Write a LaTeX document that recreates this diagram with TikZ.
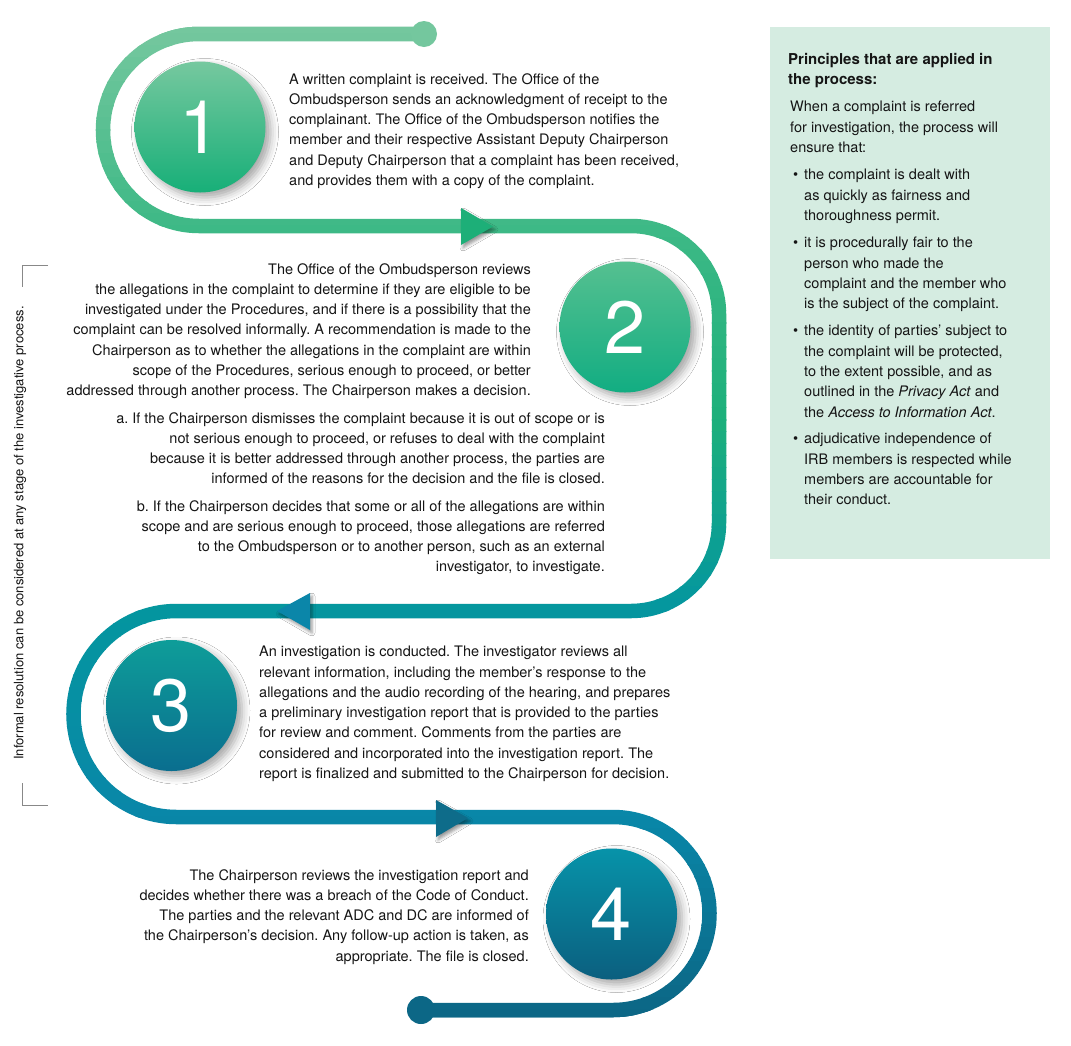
\documentclass[tikz,border=0pt]{standalone}
\usepackage{fontspec}
\setmainfont{TeX Gyre Heros}
\usetikzlibrary{shadows.blur}
\definecolor{G1}{HTML}{74C79E}
\definecolor{G2}{HTML}{3EB986}
\definecolor{G3}{HTML}{1CB07B}
\definecolor{T1}{HTML}{04969F}
\definecolor{B1}{HTML}{0987A8}
\definecolor{D1}{HTML}{0C6786}
\definecolor{tri1}{HTML}{1DAF78}
\definecolor{tri2}{HTML}{0B86A9}
\definecolor{tri3}{HTML}{0E6C8A}
\definecolor{c1t}{HTML}{76C89F}
\definecolor{c1b}{HTML}{17AF78}
\definecolor{c2t}{HTML}{55C090}
\definecolor{c2b}{HTML}{12AD82}
\definecolor{c3t}{HTML}{0E9D99}
\definecolor{c3b}{HTML}{0A6E8F}
\definecolor{c4t}{HTML}{0793A9}
\definecolor{c4b}{HTML}{0B5F7F}
\definecolor{txt}{HTML}{151515}
\definecolor{boxbg}{HTML}{D5ECE1}
\definecolor{brk}{HTML}{888888}
\def\spine{(424,-34) -- (199,-34) arc[start angle=90,end angle=270,radius=96]
  -- (631,-226) arc[start angle=90,end angle=0,radius=88]
  -- (719,-523) arc[start angle=0,end angle=-90,radius=88]
  -- (176.5,-611) arc[start angle=90,end angle=270,radius=103]
  -- (613,-817) arc[start angle=90,end angle=-90,radius=96.5]
  -- (421,-1010)}
\newcommand\bul{\llap{•\hspace{6pt}}}
\tikzset{
  spinestyle/.style={line width=14.5pt},
  numc/.style={circle, minimum size=131pt, inner sep=0pt, text=white,
    font=\fontsize{74}{74}\selectfont,
    blur shadow={shadow xshift=5pt, shadow yshift=-5pt, shadow blur radius=8pt, shadow opacity=35}},
  tri/.style={blur shadow={shadow xshift=2pt, shadow yshift=-3pt, shadow blur radius=3pt, shadow opacity=40}},
  body/.style={inner sep=0pt, text=txt, font=\frenchspacing\fontsize{14.5}{20.3}\selectfont},
  side/.style={inner sep=0pt, text=txt, font=\frenchspacing\fontsize{13}{14}\selectfont}
}
\begin{document}
\begin{tikzpicture}[x=1pt,y=1pt]
\useasboundingbox (0,0) rectangle (1071,-1045);
\fill[white] (0,0) rectangle (1071,-1045);
% green box
\fill[boxbg] (770,-27) rectangle (1050,-559);
% spine with vertical colour gradient
\foreach \ya/\yb/\ca/\cb in {18/34/G1/G1, 34/226/G1/G2, 226/420/G2/G3, 420/611/G3/T1, 611/817/T1/B1, 817/1010/B1/D1, 1010/1030/D1/D1}{
  \foreach \k in {0,...,15}{
    \pgfmathsetmacro\ys{-(\ya+(\yb-\ya)*\k/16)+0.6}
    \pgfmathsetmacro\ye{-(\ya+(\yb-\ya)*(\k+1)/16)}
    \pgfmathtruncatemacro\pc{100-100*(\k+0.5)/16}
    \begin{scope}
      \clip (0,\ys) rectangle (1071,\ye);
      \draw[spinestyle, draw=\ca!\pc!\cb] \spine;
    \end{scope}
  }
}
\coordinate (start) at (424,-34);
\coordinate (end) at (421,-1010);
\fill[G1] (start) circle[radius=13];
\fill[D1] (end) circle[radius=14];
% direction triangles
\fill[tri1, tri] (461,-208) -- (493,-226.5) -- (461,-245) -- cycle;
\fill[tri2, tri] (310,-593) -- (277,-611) -- (310,-630) -- cycle;
\fill[tri3, tri] (436,-800) -- (468,-818) -- (436,-837) -- cycle;
% numbered circles
\node[numc, top color=c1t, bottom color=c1b] (c1) at (200,-127) {1};
\node[numc, top color=c2t, bottom color=c2b] (c2) at (625,-327) {2};
\node[numc, top color=c3t, bottom color=c3b] (c3) at (171.5,-705.5) {3};
\node[numc, top color=c4t, bottom color=c4b] (c4) at (611.5,-914) {4};
% texts
\node[body, anchor=north west, align=left] (t1) at (289,-73) {A written complaint is received. The Office of the\\
Ombudsperson sends an acknowledgment of receipt to the\\
complainant. The Office of the Ombudsperson notifies the\\
member and their respective Assistant Deputy Chairperson\\
and Deputy Chairperson that a complaint has been received,\\
and provides them with a copy of the complaint.};
\node[body, anchor=north east, align=right] (t2) at (531,-263) {The Office of the Ombudsperson reviews\\
the allegations in the complaint to determine if they are eligible to be\\
investigated under the Procedures, and if there is a possibility that the\\
complaint can be resolved informally. A recommendation is made to the\\
Chairperson as to whether the allegations in the complaint are within\\
scope of the Procedures, serious enough to proceed, or better\\
addressed through another process. The Chairperson makes a decision.};
\node[body, anchor=north east, align=right] (t2a) at (605,-412) {a. If the Chairperson dismisses the complaint because it is out of scope or is\\
not serious enough to proceed, or refuses to deal with the complaint\\
because it is better addressed through another process, the parties are\\
informed of the reasons for the decision and the file is closed.};
\node[body, anchor=north east, align=right] (t2b) at (605,-500) {b. If the Chairperson decides that some or all of the allegations are within\\
scope and are serious enough to proceed, those allegations are referred\\
to the Ombudsperson or to another person, such as an external\\
investigator, to investigate.};
\node[body, anchor=north west, align=left] (t3) at (259,-646) {An investigation is conducted. The investigator reviews all\\
relevant information, including the member’s response to the\\
allegations and the audio recording of the hearing, and prepares\\
a preliminary investigation report that is provided to the parties\\
for review and comment. Comments from the parties are\\
considered and incorporated into the investigation report. The\\
report is finalized and submitted to the Chairperson for decision.};
\node[body, anchor=north east, align=right] (t4) at (529,-869) {The Chairperson reviews the investigation report and\\
decides whether there was a breach of the Code of Conduct.\\
The parties and the relevant ADC and DC are informed of\\
the Chairperson’s decision. Any follow-up action is taken, as\\
appropriate. The file is closed.};
% side note
\node[side, rotate=90] (side) at (20,-533) {Informal resolution can be considered at any stage of the investigative process.};
\draw[brk, line width=0.9pt] (48,-265) -- (22,-265) -- (22,-287);
\draw[brk, line width=0.9pt] (22,-783) -- (22,-805) -- (48,-805);
% principles box
\node[body, anchor=north west, align=left, font=\fontsize{15}{20.3}\bfseries] (ptitle) at (788,-53) {Principles that are applied in\\the process:};
\node[body, anchor=north west, align=left] (pintro) at (790,-101) {When a complaint is referred\\for investigation, the process will\\ensure that:};
\node[body, anchor=north west, align=left] (p1) at (804,-169) {\bul the complaint is dealt with\\as quickly as fairness and\\thoroughness permit.};
\node[body, anchor=north west, align=left] (p2) at (804,-237) {\bul it is procedurally fair to the\\person who made the\\complaint and the member who\\is the subject of the complaint.};
\node[body, anchor=north west, align=left] (p3) at (804,-325) {\bul the identity of parties’ subject to\\the complaint will be protected,\\to the extent possible, and as\\outlined in the \textit{Privacy Act} and\\the \textit{Access to Information Act}.};
\node[body, anchor=north west, align=left] (p4) at (804,-433) {\bul adjudicative independence of\\IRB members is respected while\\members are accountable for\\their conduct.};
\end{tikzpicture}
\end{document}
